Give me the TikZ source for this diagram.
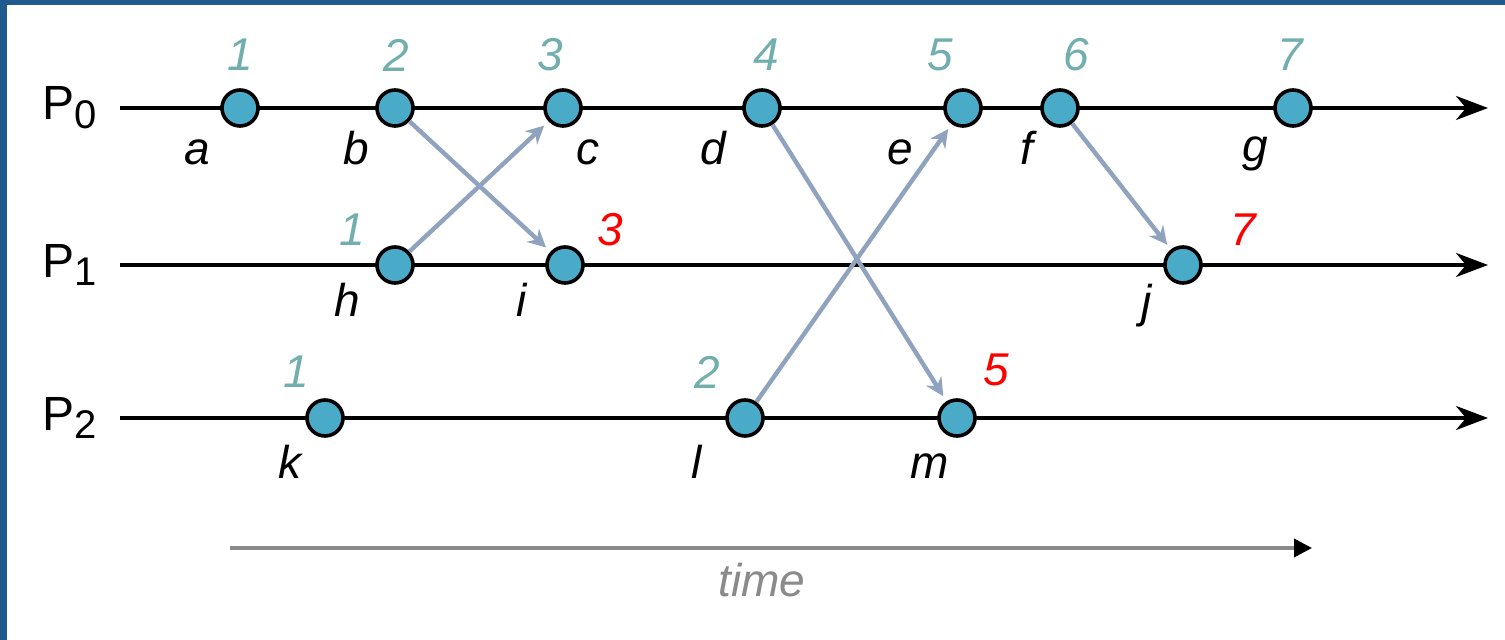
\documentclass[tikz,border=0pt]{standalone}
\usepackage{fontspec}
\setmainfont{Liberation Sans}
\usetikzlibrary{arrows.meta}

\definecolor{frameblue}{HTML}{1F5A8F}
\definecolor{eventfill}{HTML}{4AABC9}
\definecolor{clockteal}{HTML}{72AEAE}
\definecolor{msggray}{HTML}{8FA3BF}
\definecolor{timegray}{HTML}{8A8A8A}

\newcommand{\proclabel}[1]{P\raisebox{-0.35ex}{\fontsize{20}{20}\selectfont #1}}

\begin{document}
\begin{tikzpicture}[
			x=0.5pt, y=-0.5pt,
			every node/.style = {font=\fontsize{23}{23}\selectfont},
			event/.style      = {circle, draw=black, line width=1.8pt, fill=eventfill,
			                     minimum size=18pt, inner sep=0pt},
			clock/.style      = {text=clockteal, font=\fontsize{23}{23}\selectfont\itshape},
			newclock/.style   = {text=red, font=\fontsize{23}{23}\selectfont\itshape},
			evname/.style     = {font=\fontsize{23}{23}\selectfont\itshape},
			timeline/.style   = {line width=1.9pt, -{Stealth[length=16pt, width=12pt, inset=5pt]}},
			message/.style    = {msggray, line width=2.2pt, shorten >=3pt,
			                     -{Stealth[length=9pt, width=9pt, inset=3pt]}}
			]
			%--- frame ---
			\useasboundingbox (0,0) rectangle (1505,640);
			\fill[frameblue] (0,0) rectangle (1505,640);
			\fill[white] (7,5) rectangle (1510,645);
			
			%--- processes ---
			\node (p0) at (70,108) {\fontsize{24}{24}\selectfont\proclabel{0}};
			\node (p1) at (70,265) {\fontsize{24}{24}\selectfont\proclabel{1}};
			\node (p2) at (70,418) {\fontsize{24}{24}\selectfont\proclabel{2}};
			
			\coordinate (s0) at (120,108);
			\coordinate (e0) at (1488,108);
			\coordinate (s1) at (120,265);
			\coordinate (e1) at (1488,265);
			\coordinate (s2) at (120,418);
			\coordinate (e2) at (1488,418);
			
			\draw[timeline] (s0) -- (e0);
			\draw[timeline] (s1) -- (e1);
			\draw[timeline] (s2) -- (e2);
			
			%--- events on P0 ---
			\node[event] (a) at (240,108)  {};
			\node[event] (b) at (395,108)  {};
			\node[event] (c) at (563,108)  {};
			\node[event] (d) at (762,108)  {};
			\node[event] (e) at (963,108)  {};
			\node[event] (f) at (1060,108) {};
			\node[event] (g) at (1293,108) {};
			
			%--- events on P1 ---
			\node[event] (h) at (395,265)  {};
			\node[event] (i) at (565,265)  {};
			\node[event] (j) at (1183,265) {};
			
			%--- events on P2 ---
			\node[event] (k) at (325,418)  {};
			\node[event] (l) at (745,418)  {};
			\node[event] (m) at (957,418)  {};
			
			%--- event names ---
			\node[evname] (na) at (197,152)  {a};
			\node[evname] (nb) at (356,148)  {b};
			\node[evname] (nc) at (588,152)  {c};
			\node[evname] (nd) at (713,148)  {d};
			\node[evname] (ne) at (900,152)  {e};
			\node[evname] (nf) at (1027,148) {f};
			\node[evname] (ng) at (1255,154) {g};
			\node[evname] (nh) at (347,300)  {h};
			\node[evname] (ni) at (522,300)  {i};
			\node[evname] (nj) at (1147,306) {j};
			\node[evname] (nk) at (290,462)  {k};
			\node[evname] (nl) at (697,462)  {l};
			\node[evname] (nm) at (930,466)  {m};
			
			%--- logical clocks ---
			\node[clock] (ca) at (240,55)  {1};
			\node[clock] (cb) at (396,55)  {2};
			\node[clock] (cc) at (550,55)  {3};
			\node[clock] (cd) at (766,55)  {4};
			\node[clock] (ce) at (940,55)  {5};
			\node[clock] (cf) at (1076,55) {6};
			\node[clock] (cg) at (1290,55) {7};
			\node[clock] (ch) at (352,230) {1};
			\node[newclock] (ci) at (610,230)  {3};
			\node[newclock] (cj) at (1243,230) {7};
			\node[clock] (ck) at (296,372) {1};
			\node[clock] (cl) at (707,372) {2};
			\node[newclock] (cm) at (996,370)  {5};
			
			%--- messages ---
			\draw[message] (b) -- (i);
			\draw[message] (h) -- (c);
			\draw[message] (d) -- (m);
			\draw[message] (l) -- (e);
			\draw[message] (f) -- (j);
			
			%--- time axis ---
			\coordinate (t0) at (230,548);
			\coordinate (t1) at (1312,548);
			\draw[timegray, line width=1.8pt, -{Triangle[length=9pt, width=9pt, black]}] (t0) -- (t1);
			\node[text=timegray, font=\fontsize{23}{23}\selectfont\itshape] (tl) at (762,580) {time};
		\end{tikzpicture}
\end{document}
